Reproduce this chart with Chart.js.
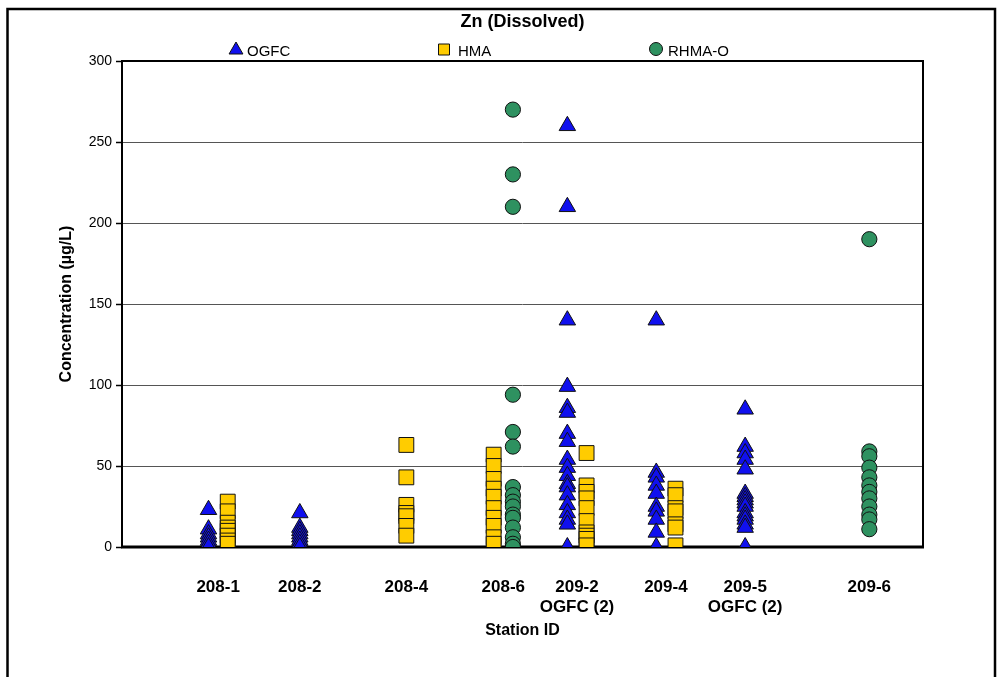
<!DOCTYPE html>
<html><head><meta charset="utf-8">
<script src="https://cdn.jsdelivr.net/npm/chart.js@4.4.0/dist/chart.umd.min.js"></script>
<style>html,body{margin:0;padding:0;background:#fff}#wrap{width:1000px;height:677px;position:relative}</style>
</head><body><div id="wrap"><canvas id="c"></canvas></div>
<script>
// ---- data ----
const stationNames = ['208-1','208-2','208-4','208-6','209-2','209-4','209-5','209-6'];
const stationTickLabels = ['208-1','208-2','208-4','208-6',['209-2','OGFC (2)'],'209-4',['209-5','OGFC (2)'],'209-6'];
const stationAxisPos = [12.0, 22.2, 35.5, 47.6, 56.8, 67.9, 77.8, 93.3];
const yTickValues = [0, 50, 100, 150, 200, 250, 300];

const ogfcStations = ['208-1','208-2','209-2','209-4','209-5'];
const ogfcValues = [
  [23, 11, 8, 6, 4, 2, 0],
  [21, 12, 10, 8, 6, 4, 2, 0],
  [260, 210, 140, 99, 86, 83, 70, 65, 54, 49, 44, 39, 37, 32, 26, 21, 17, 14, 0],
  [140, 46, 43, 38, 33, 25, 22, 17, 9, 0],
  [85, 62, 58, 54, 48, 33, 31, 29, 27, 25, 21, 19, 17, 14, 12, 0]
];
const hmaStations = ['208-1','208-4','208-6','209-2','209-4'];
const hmaValues = [
  [28, 22, 15, 12, 10, 7, 4, 2],
  [63, 43, 26, 21, 19, 13, 7],
  [57, 50, 42, 36, 31, 24, 18, 13, 6, 2],
  [58, 38, 34, 30, 24, 16, 9, 7, 5, 1],
  [36, 32, 24, 22, 14, 12, 1]
];
const rhmaStations = ['208-6','209-6'];
const rhmaValues = [
  [270, 230, 210, 94, 71, 62, 37, 32, 28, 25, 20, 18, 12, 6, 2, 0],
  [190, 59, 56, 49, 43, 38, 34, 30, 25, 20, 17, 11]
];
const seriesNames = ['OGFC', 'HMA', 'RHMA-O'];

// ---- build ----
const FONT = '"Liberation Sans", Arial, sans-serif';
const seriesStations = [ogfcStations, hmaStations, rhmaStations];
const seriesValues = [ogfcValues, hmaValues, rhmaValues];
const pairOffset = 1.2;

function offsetFor(seriesIdx, station) {
  const present = [];
  seriesStations.forEach((st, i) => { if (st.includes(station)) present.push(i); });
  if (present.length < 2) return 0;
  return present.indexOf(seriesIdx) === 0 ? -pairOffset : pairOffset;
}
function buildPoints(seriesIdx) {
  const pts = [];
  seriesStations[seriesIdx].forEach((st, k) => {
    const x = stationAxisPos[stationNames.indexOf(st)] + offsetFor(seriesIdx, st);
    seriesValues[seriesIdx][k].forEach(v => pts.push({x: x, y: v}));
  });
  return pts;
}
const styles = [
  {pointStyle: 'triangle', pointRadius: 9.5, backgroundColor: '#1010ee'},
  {pointStyle: 'rect', pointRadius: 10.5, backgroundColor: '#ffcc00'},
  {pointStyle: 'circle', pointRadius: 7.6, backgroundColor: '#2e9160'}
];
const datasets = seriesNames.map((n, i) => ({
  label: n,
  data: buildPoints(i),
  pointStyle: styles[i].pointStyle,
  pointRadius: styles[i].pointRadius,
  pointHoverRadius: styles[i].pointRadius,
  backgroundColor: styles[i].backgroundColor,
  borderColor: '#111',
  borderWidth: 1,
  showLine: false
}));

const framePlugin = {
  id: 'frame',
  beforeDraw(chart) {
    const ctx = chart.ctx;
    ctx.save();
    ctx.fillStyle = '#fff';
    ctx.fillRect(0, 0, chart.width, chart.height);
    ctx.strokeStyle = '#000';
    ctx.lineWidth = 2.5;
    ctx.strokeRect(7.5, 9, 987.5, 720);
    ctx.restore();
  },
  beforeDatasetsDraw(chart) {
    const ctx = chart.ctx;
    const a = chart.chartArea;
    ctx.save();
    ctx.strokeStyle = '#000';
    ctx.lineWidth = 2;
    ctx.beginPath();
    ctx.moveTo(a.left, a.bottom);
    ctx.lineTo(a.left, a.top);
    ctx.lineTo(a.right, a.top);
    ctx.lineTo(a.right, a.bottom);
    ctx.stroke();
    ctx.lineWidth = 3;
    ctx.beginPath();
    ctx.moveTo(a.left - 1, a.bottom);
    ctx.lineTo(a.right + 1, a.bottom);
    ctx.stroke();
    ctx.restore();
  },
  afterDraw(chart) {
    const ctx = chart.ctx;
    const y = 50;
    const items = [
      {mx: 236, tx: 247},
      {mx: 444, tx: 458},
      {mx: 656, tx: 668}
    ];
    ctx.save();
    items.forEach((it, i) => {
      const ds = chart.data.datasets[i];
      ctx.fillStyle = ds.backgroundColor;
      ctx.strokeStyle = '#111';
      ctx.lineWidth = 1;
      ctx.beginPath();
      if (ds.pointStyle === 'triangle') {
        const r = 8;
        ctx.moveTo(it.mx, y - r);
        ctx.lineTo(it.mx + r * 0.866, y + r / 2);
        ctx.lineTo(it.mx - r * 0.866, y + r / 2);
        ctx.closePath();
      } else if (ds.pointStyle === 'rect') {
        ctx.rect(it.mx - 5.5, y - 6, 11, 11);
      } else {
        ctx.arc(it.mx, y - 1, 6.5, 0, Math.PI * 2);
      }
      ctx.fill();
      ctx.stroke();
      ctx.fillStyle = '#000';
      ctx.font = '15px ' + FONT;
      ctx.textBaseline = 'middle';
      ctx.textAlign = 'left';
      ctx.fillText(ds.label, it.tx, y + 2);
    });
    ctx.restore();
  }
};

new Chart(document.getElementById('c'), {
  type: 'scatter',
  data: {datasets: datasets},
  options: {
    responsive: true,
    maintainAspectRatio: false,
    animation: false,
    events: [],
    layout: {padding: {left: 0, right: 77, top: 0, bottom: 0}},
    plugins: {
      legend: {display: false},
      tooltip: {enabled: false},
      title: {
        display: true,
        fullSize: false,
        text: 'Zn (Dissolved)',
        color: '#000',
        font: {family: FONT, size: 18, weight: 'bold'},
        padding: {top: 11, bottom: 28.4}
      }
    },
    scales: {
      x: {
        type: 'linear',
        min: 0,
        max: 100,
        afterBuildTicks: s => { s.ticks = stationAxisPos.map(v => ({value: v})); },
        afterFit: s => { s.height = 130; },
        ticks: {
          autoSkip: false, maxRotation: 0, minRotation: 0, padding: 30,
          color: '#000',
          font: {family: FONT, size: 17, weight: 'bold'},
          callback: (v, i) => stationTickLabels[i]
        },
        grid: {display: false, drawTicks: false},
        border: {display: false},
        title: {
          display: true, text: 'Station ID', color: '#000',
          font: {family: FONT, size: 16, weight: 'bold'},
          padding: {top: 0, bottom: 37}
        }
      },
      y: {
        min: 0,
        max: 300,
        afterBuildTicks: s => { s.ticks = yTickValues.map(v => ({value: v})); },
        afterFit: s => { s.width = 122; },
        ticks: {color: '#000', padding: 4, font: {family: FONT, size: 14}},
        grid: {color: '#555', lineWidth: 1, drawTicks: true, tickLength: 6, tickColor: '#000', tickWidth: 1.5},
        border: {display: false},
        title: {
          display: true, text: 'Concentration (µg/L)', color: '#000',
          font: {family: FONT, size: 16, weight: 'bold'},
          padding: {top: 57, bottom: 0}
        }
      }
    }
  },
  plugins: [framePlugin]
});
</script>
</body></html>
